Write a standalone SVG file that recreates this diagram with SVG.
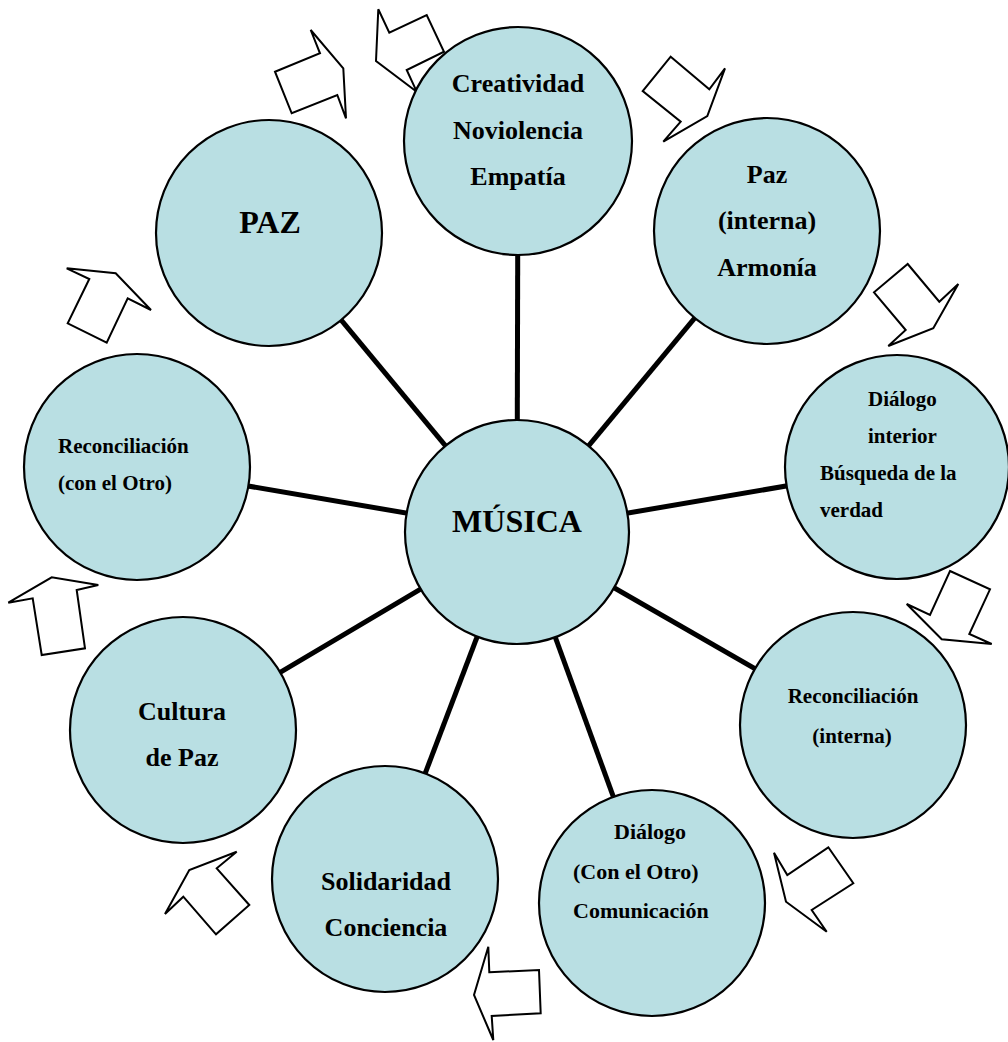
<svg xmlns="http://www.w3.org/2000/svg" width="1008" height="1042" viewBox="0 0 1008 1042">
<style>
.node{fill:#b9dfe3;stroke:#000;stroke-width:2.2}
.t{font-family:"Liberation Serif","Times New Roman",serif;font-weight:bold;fill:#000}
.c{text-anchor:middle}
.arr{fill:#fff;stroke:#000;stroke-width:2;stroke-linejoin:miter}
.spoke{stroke:#000;stroke-width:5}
</style>
<rect width="1008" height="1042" fill="#fff"/>
<g id="connectors">
<line class="spoke" x1="517" y1="532" x2="518" y2="143"/>
<line class="spoke" x1="517" y1="532" x2="767" y2="231"/>
<line class="spoke" x1="517" y1="532" x2="897" y2="467"/>
<line class="spoke" x1="517" y1="532" x2="853" y2="725"/>
<line class="spoke" x1="517" y1="532" x2="652" y2="903"/>
<line class="spoke" x1="517" y1="532" x2="385" y2="879"/>
<line class="spoke" x1="517" y1="532" x2="183" y2="730"/>
<line class="spoke" x1="517" y1="532" x2="137" y2="467"/>
<line class="spoke" x1="517" y1="532" x2="269" y2="233"/>
</g>
<g id="arrows">
<polygon class="arr" points="275,71.7 320,53.3 310.7,30 343.3,68.3 346,118.3 337.3,95 291.7,113.3"/>
<polygon class="arr" points="378.3,9.3 389.3,32.7 426.7,15 444,51.7 406.7,70 416.7,91.7 376,61"/>
<polygon class="arr" points="670.7,56.7 709.3,89.3 725,68.3 707.3,116 663.3,141.7 680.7,121.7 642.7,91"/>
<polygon class="arr" points="907.7,264 939.3,301.7 958.3,284 933.3,328.3 888.3,346 905.7,330 874,292.3"/>
<polygon class="arr" points="950,571 990,589.3 969.3,634 991.7,644 941.7,639.3 906.7,604 930,615"/>
<polygon class="arr" points="828.3,847.3 853.3,883.3 811.7,910 826.7,931.7 786,901.7 774,852.7 787.3,875"/>
<polygon class="arr" points="489.3,972.3 539,970 540.7,1013.3 491.7,1016 493.3,1040 474,995 488.3,946.7"/>
<polygon class="arr" points="216.7,868.3 249.3,905 216,934.3 183.3,896.7 165,914 189.3,870 236.7,851.7"/>
<polygon class="arr" points="76.7,590 85,648.3 41.7,655 32.7,598.3 8.3,602.7 51.7,577.3 98.3,585"/>
<polygon class="arr" points="89.3,279 67.7,323.3 106.7,342.7 127.7,298.3 151,310 115.7,273.3 66.7,268.3"/>
</g>
<g id="musica">
<circle class="node" cx="517" cy="532" r="112"/>
<text class="t c" x="517" y="532" font-size="32">MÚSICA</text>
</g>
<g id="creatividad">
<circle class="node" cx="518" cy="141" r="114"/>
<text class="t c" x="518" y="92" font-size="26">Creatividad</text>
<text class="t c" x="518" y="139" font-size="26">Noviolencia</text>
<text class="t c" x="518" y="185" font-size="26">Empatía</text>
</g>
<g id="paz-interna">
<circle class="node" cx="767" cy="231" r="113"/>
<text class="t c" x="767" y="183" font-size="26">Paz</text>
<text class="t c" x="767" y="229" font-size="26">(interna)</text>
<text class="t c" x="767" y="276" font-size="26">Armonía</text>
</g>
<g id="dialogo-interior">
<circle class="node" cx="897" cy="467" r="112"/>
<text class="t" x="868" y="406" font-size="21">Diálogo</text>
<text class="t" x="868" y="443" font-size="21">interior</text>
<text class="t" x="820" y="480" font-size="21">Búsqueda de la</text>
<text class="t" x="820" y="517" font-size="21">verdad</text>
</g>
<g id="reconciliacion-interna">
<circle class="node" cx="853" cy="725" r="113"/>
<text class="t c" x="853" y="703" font-size="21">Reconciliación</text>
<text class="t c" x="852" y="743" font-size="21">(interna)</text>
</g>
<g id="dialogo-otro">
<circle class="node" cx="652" cy="903" r="113"/>
<text class="t" x="614" y="839" font-size="22">Diálogo</text>
<text class="t" x="573" y="879" font-size="22">(Con el Otro)</text>
<text class="t" x="573" y="918" font-size="22">Comunicación</text>
</g>
<g id="solidaridad">
<circle class="node" cx="385" cy="879" r="113"/>
<text class="t c" x="386" y="890" font-size="26">Solidaridad</text>
<text class="t c" x="386" y="936" font-size="26">Conciencia</text>
</g>
<g id="cultura">
<circle class="node" cx="183" cy="730" r="113"/>
<text class="t c" x="182" y="720" font-size="26">Cultura</text>
<text class="t c" x="182" y="766" font-size="26">de Paz</text>
</g>
<g id="reconciliacion-otro">
<circle class="node" cx="137" cy="467" r="113"/>
<text class="t" x="58" y="453" font-size="21">Reconciliación</text>
<text class="t" x="58" y="490" font-size="21">(con el Otro)</text>
</g>
<g id="paz">
<circle class="node" cx="269" cy="233" r="113"/>
<text class="t c" x="270" y="233" font-size="32">PAZ</text>
</g>
</svg>
